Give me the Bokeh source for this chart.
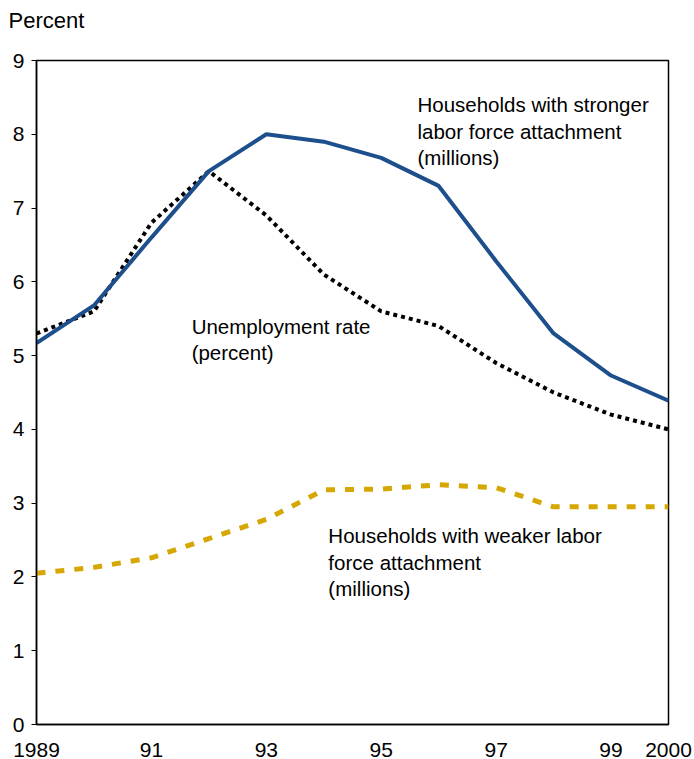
from bokeh.plotting import figure
from bokeh.models import FixedTicker, Label, Range1d, Title
from bokeh.embed import file_html
from bokeh.resources import INLINE

years = [1989, 1990, 1991, 1992, 1993, 1994, 1995, 1996, 1997, 1998, 1999, 2000]
stronger = [5.17, 5.68, 6.6, 7.5, 8.0, 7.9, 7.68, 7.3, 6.28, 5.3, 4.73, 4.39]
unemployment = [5.3, 5.6, 6.8, 7.5, 6.9, 6.1, 5.6, 5.4, 4.9, 4.5, 4.2, 4.0]
weaker = [2.05, 2.13, 2.26, 2.52, 2.78, 3.18, 3.19, 3.25, 3.21, 2.95, 2.95, 2.95]

x_ticks = [1989, 1991, 1993, 1995, 1997, 1999, 2000]
x_tick_labels = ["1989", "91", "93", "95", "97", "99", "2000"]
y_ticks = [0, 1, 2, 3, 4, 5, 6, 7, 8, 9]

FONT = "Liberation Sans"

p = figure(width=694, height=759, output_backend="svg", toolbar_location=None,
           x_range=Range1d(1989, 2000), y_range=Range1d(0, 9),
           min_border_left=36, min_border_right=26, min_border_top=60, min_border_bottom=35,
           title="Percent")

p.title.text_font = FONT
p.title.text_font_size = "22px"
p.title.text_font_style = "normal"
p.title.text_color = "black"
p.title.align = "left"
p.title.vertical_align = "top"
p.title.offset = -28
p.title.standoff = 0

# blank spacer panel between the title and the frame
p.add_layout(Title(text=" ", text_font_size="1px", standoff=23), "above")

p.grid.visible = False
p.outline_line_color = "black"
p.outline_line_width = 1.5

p.xaxis.ticker = FixedTicker(ticks=x_ticks)
p.xaxis.major_label_overrides = {t: l for t, l in zip(x_ticks, x_tick_labels)}
p.xaxis.minor_tick_line_color = None
p.xaxis.major_label_standoff = 12
p.yaxis.ticker = FixedTicker(ticks=y_ticks)
p.yaxis.major_tick_in = 0
p.yaxis.major_tick_out = 5
p.yaxis.minor_tick_line_color = None
p.yaxis.major_label_standoff = 7
for ax in (p.xaxis, p.yaxis):
    ax.axis_line_color = "black"
    ax.axis_line_width = 1.5
    ax.major_label_text_font = FONT
    ax.major_label_text_font_size = "21px"
    ax.major_label_text_color = "black"
p.xaxis.major_tick_line_color = None
p.yaxis.major_tick_line_color = "black"

p.line(years, weaker, line_color="#d6a700", line_width=5, line_dash="9 10")
p.line(years, unemployment, line_color="black", line_width=4, line_dash="4 4")
p.line(years, stronger, line_color="#1d4f8c", line_width=4)

def add_text(x, y, txt, size="20.5px"):
    p.add_layout(Label(x=x, y=y, text=txt, text_font=FONT, text_font_size=size,
                       text_color="black", text_baseline="top", text_align="left",
                       text_line_height=1.15))

add_text(1995.63, 8.553, "Households with stronger\nlabor force attachment\n(millions)")
add_text(1991.70, 5.557, "Unemployment rate\n(percent)")
add_text(1994.08, 2.711, "Households with weaker labor\nforce attachment\n(millions)")

open("out.html", "w").write(file_html(p, INLINE))
